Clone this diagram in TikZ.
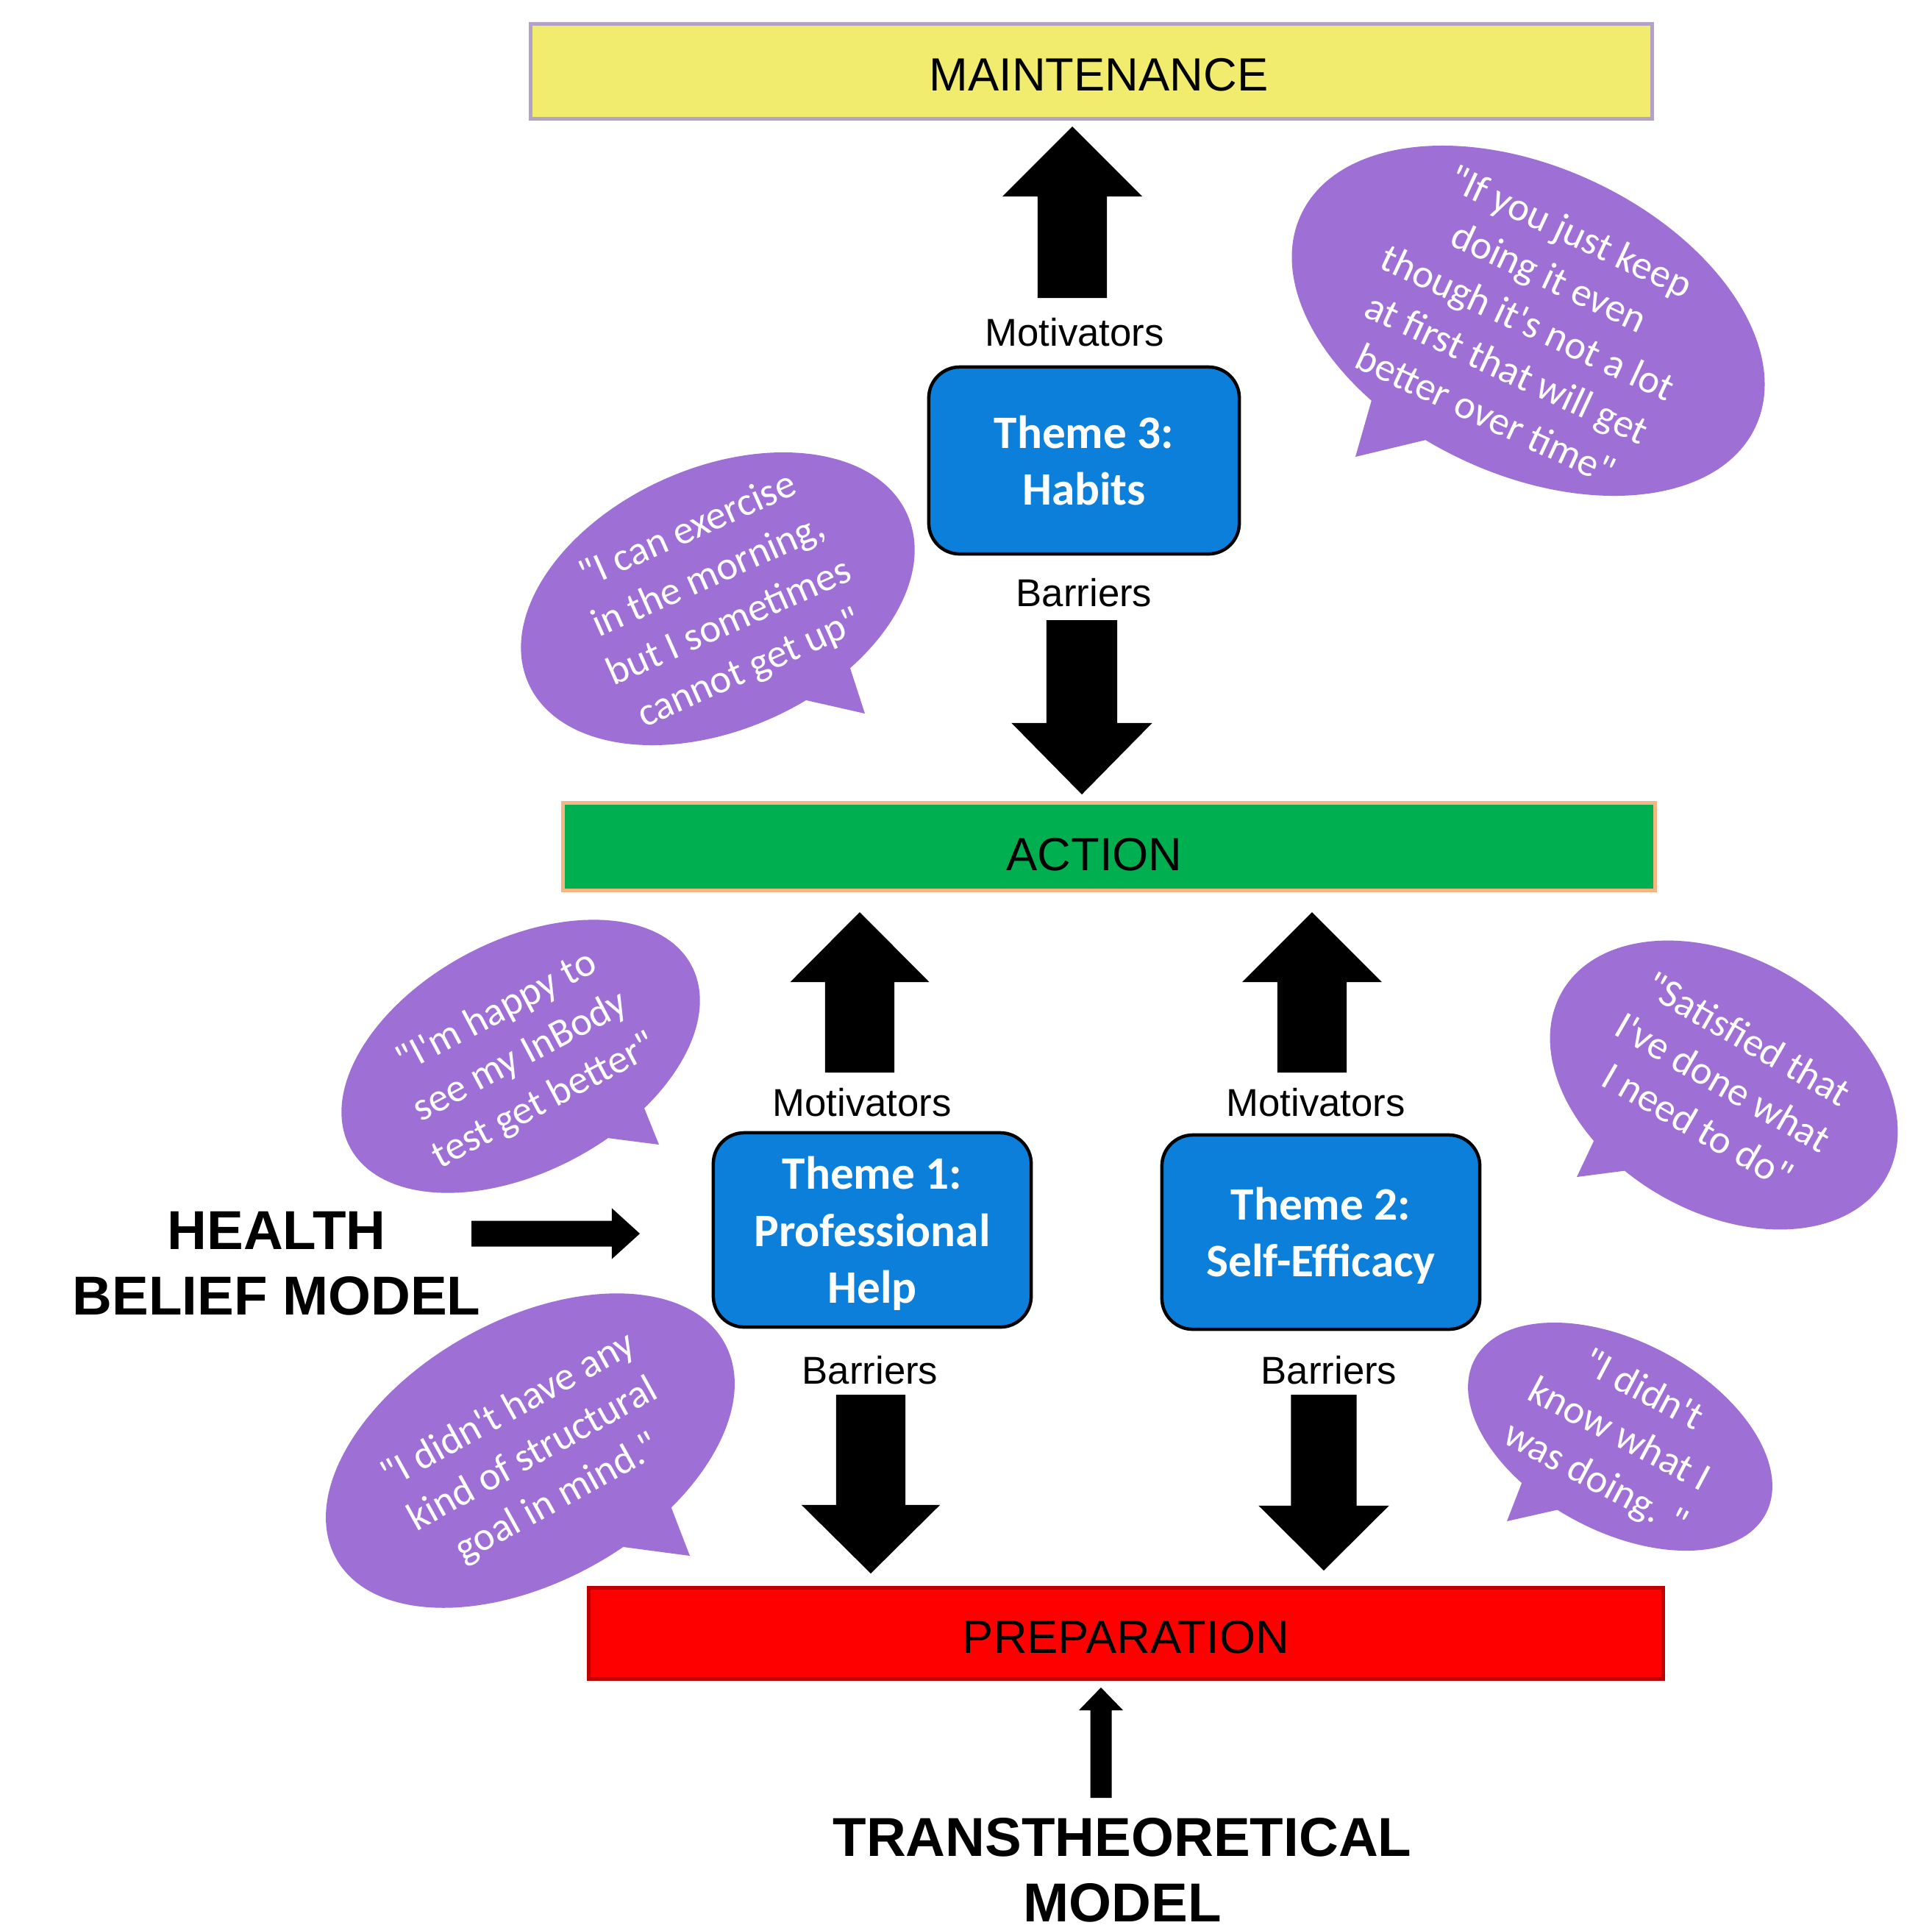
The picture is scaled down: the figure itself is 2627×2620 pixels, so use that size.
\documentclass[tikz,border=0pt]{standalone}
\usepackage{fontspec}
\setmainfont{Liberation Sans}
\newfontfamily\quotefont{Carlito}[Ligatures=TeXOff]
\newfontfamily\themefont{Carlito}
\usetikzlibrary{calc,shapes.geometric}

\definecolor{bubblecol}{RGB}{158,111,212}
\definecolor{themeblue}{RGB}{12,127,218}
\definecolor{maintfill}{RGB}{242,236,110}
\definecolor{maintline}{RGB}{179,162,199}
\definecolor{actfill}{RGB}{0,176,80}
\definecolor{actline}{RGB}{244,182,131}
\definecolor{prepline}{RGB}{192,0,0}

% block arrow: tail, tip, half shaft, half head, head length
\newcommand{\blockarrow}[5]{%
  \coordinate (ba) at ($(#2)!#5!(#1)$);
  \fill ($(#1)!#3!90:(#2)$) -- ($(ba)!#3!-90:(#1)$) -- ($(ba)!#4!-90:(#1)$) -- (#2)
    -- ($(ba)!#4!90:(#1)$) -- ($(ba)!#3!90:(#1)$) -- ($(#1)!#3!-90:(#2)$) -- cycle;}

\tikzset{
  stage/.style={draw, line width=0.05cm, text height=15pt, text depth=0pt,
    font=\fontsize{18}{22}\selectfont},
  theme/.style={draw=black, line width=0.045cm, fill=themeblue, rounded corners=0.42cm,
    text=white, align=center, text depth=0pt, minimum width=4.32cm, minimum height=2.64cm,
    font=\themefont\bfseries\fontsize{18}{22}\selectfont},
  factor/.style={font=\fontsize{15}{18}\selectfont},
  model/.style={align=center, font=\bfseries\fontsize{21.2}{25.3}\selectfont},
  quote/.style={text=white, align=center, font=\quotefont\fontsize{15.5}{19.5}\selectfont},
  bubble/.style={fill=bubblecol}
}

\begin{document}
\begin{tikzpicture}[x=0.01cm, y=-0.01cm]
  \useasboundingbox (0,0) rectangle (2627,2620);

  % stages
  \node[stage, draw=maintline, fill=maintfill, minimum width=15.24cm, minimum height=1.28cm] (maint) at (1484,97) {\hspace*{0.2cm}MAINTENANCE};
  \node[stage, draw=actline, fill=actfill, minimum width=14.84cm, minimum height=1.18cm, text height=18.6pt] (action) at (1508,1151) {\hspace*{-0.4cm}ACTION};
  \node[stage, draw=prepline, fill=red, minimum width=14.6cm, minimum height=1.24cm, text height=15.8pt] (prep) at (1531,2220) {PREPARATION};

  % themes
  \node[theme, minimum width=4.22cm, minimum height=2.54cm] (habits) at (1474,626) {Theme 3:\\Habits};
  \node[theme] (prof) at (1186,1672) {Theme 1:\\Professional\\Help};
  \node[theme] (selfeff) at (1796,1675) {Theme 2:\\Self-Efficacy};

  \node[factor] (mot3) at (1461,452) {Motivators};
  \node[factor] (bar3) at (1474,806) {Barriers};
  \node[factor] (mot1) at (1172,1499) {Motivators};
  \node[factor] (bar1) at (1183,1863) {Barriers};
  \node[factor] (mot2) at (1789,1499) {Motivators};
  \node[factor] (bar2) at (1807,1863) {Barriers};

  % models
  \node[model] (hbm) at (376,1718) {HEALTH\\BELIEF MODEL};
  \node[model] (ttm) at (1526,2542) {TRANSTHEORETICAL\\MODEL};

  % arrows
  \coordinate (m3-s) at (1458,405);  \coordinate (m3-e) at (1458,172);
  \coordinate (b3-s) at (1471,843);  \coordinate (b3-e) at (1471,1080);
  \coordinate (m1-s) at (1169,1458); \coordinate (m1-e) at (1169,1240);
  \coordinate (b1-s) at (1184,1896); \coordinate (b1-e) at (1184,2139);
  \coordinate (m2-s) at (1784,1458); \coordinate (m2-e) at (1784,1240);
  \coordinate (b2-s) at (1800,1896); \coordinate (b2-e) at (1800,2135);
  \coordinate (hbm-s) at (641,1677); \coordinate (hbm-e) at (870,1677);
  \coordinate (ttm-s) at (1497,2444); \coordinate (ttm-e) at (1497,2294);
  \blockarrow{m3-s}{m3-e}{0.47cm}{0.95cm}{0.95cm}
  \blockarrow{b3-s}{b3-e}{0.48cm}{0.955cm}{0.97cm}
  \blockarrow{m1-s}{m1-e}{0.47cm}{0.945cm}{0.95cm}
  \blockarrow{b1-s}{b1-e}{0.47cm}{0.94cm}{0.93cm}
  \blockarrow{m2-s}{m2-e}{0.47cm}{0.95cm}{0.95cm}
  \blockarrow{b2-s}{b2-e}{0.445cm}{0.885cm}{0.88cm}
  \blockarrow{hbm-s}{hbm-e}{0.175cm}{0.345cm}{0.38cm}
  \blockarrow{ttm-s}{ttm-e}{0.145cm}{0.30cm}{0.31cm}

  % quote bubbles
  \fill[bubble, rotate around={-25:(2078,436)}] (2078,436) ellipse [x radius=341, y radius=209];
  \fill[bubble] (1869,530) -- (1843,621) -- (1968,591) -- cycle;
  \node[quote, rotate=-25] (qhab1) at (2078,438) {"If you just keep\\doing it even\\though it's not a lot\\at first that will get\\better over time"};

  \fill[bubble, rotate around={24:(976,814)}] (976,814) ellipse [x radius=282, y radius=178];
  \fill[bubble] (1150,890) -- (1176,970) -- (1070,946) -- cycle;
  \node[quote, rotate=24] (qhab2) at (978,816) {"I can exercise\\in the morning,\\but I sometimes\\cannot get up"};

  \fill[bubble, rotate around={28:(708,1436)}] (708,1436) ellipse [x radius=263, y radius=157];
  \fill[bubble] (869,1489) -- (896,1556) -- (795,1543) -- cycle;
  \node[quote, rotate=28] (qprof1) at (708,1437) {"I'm happy to\\see my InBody\\test get better"};

  \fill[bubble, rotate around={29:(721,1972)}] (721,1972) ellipse [x radius=302, y radius=178];
  \fill[bubble] (908,2037) -- (938,2115) -- (825,2100) -- cycle;
  \node[quote, rotate=29] (qprof2) at (725,1978) {"I didn't have any\\kind of structural\\goal in mind."};

  \fill[bubble, rotate around={-30:(2344,1475)}] (2344,1475) ellipse [x radius=254, y radius=173];
  \fill[bubble] (2178,1528) -- (2144,1600) -- (2244,1587) -- cycle;
  \node[quote, rotate=-30] (qself1) at (2343,1471) {"Satisfied that\\I've done what\\I need to do"};

  \fill[bubble, rotate around={-28:(2203,1953)}] (2203,1953) ellipse [x radius=224, y radius=129];
  \fill[bubble] (2073,2006) -- (2049,2068) -- (2133,2049) -- cycle;
  \node[quote, rotate=-28] (qself2) at (2201,1952) {"I didn't\\know what I\\was doing. "};
\end{tikzpicture}
\end{document}
